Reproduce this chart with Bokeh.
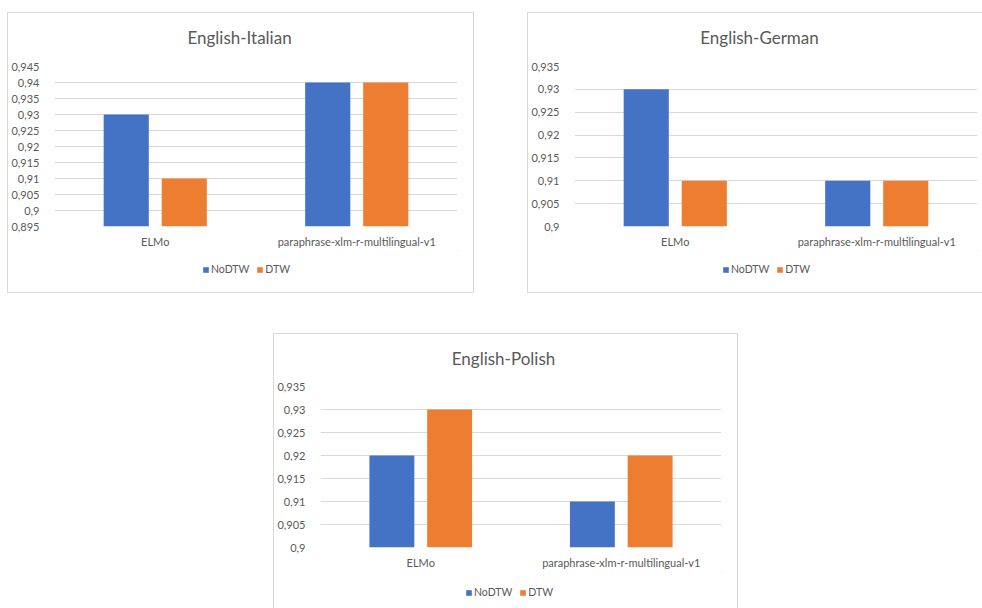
from bokeh.plotting import figure
from bokeh.models import (FactorRange, Range1d, FixedTicker, CustomJSTickFormatter,
                          Legend, LegendItem, ColumnDataSource, Label)
from bokeh.transform import dodge
from bokeh.layouts import column, row
from bokeh.embed import file_html
from bokeh.resources import INLINE

categories = ["ELMo", "paraphrase-xlm-r-multilingual-v1"]
series = ["NoDTW", "DTW"]

it_title = "English-Italian"
it_nodtw = [0.93, 0.94]
it_dtw = [0.91, 0.94]
it_ticks = [0.895, 0.9, 0.905, 0.91, 0.915, 0.92, 0.925, 0.93, 0.935, 0.94, 0.945]

de_title = "English-German"
de_nodtw = [0.93, 0.91]
de_dtw = [0.91, 0.91]
de_ticks = [0.9, 0.905, 0.91, 0.915, 0.92, 0.925, 0.93, 0.935]

pl_title = "English-Polish"
pl_nodtw = [0.92, 0.91]
pl_dtw = [0.93, 0.92]
pl_ticks = [0.9, 0.905, 0.91, 0.915, 0.92, 0.925, 0.93, 0.935]

BLUE = "#4472C4"
ORANGE = "#ED7D31"
TEXT = "#595959"
GRID = "#d9d9d9"
FONT = "Lato"


def strip(width, height):
    s = figure(width=width, height=height, x_range=Range1d(0, 1), y_range=Range1d(0, 1),
               min_border=0, min_border_left=0, min_border_right=0,
               min_border_top=0, min_border_bottom=0,
               x_axis_location=None, y_axis_location=None,
               output_backend="svg", toolbar_location=None)
    s.grid.visible = False
    s.outline_line_color = None
    s.border_fill_color = "white"
    return s


def make_chart(title, nodtw, dtw, ticks, width, h_title, h_main, h_leg, mleft, mright,
               title_pos, legend_loc, margin, styles):
    # title strip
    tp = strip(width, h_title)
    tp.add_layout(Label(x=title_pos[0], y=title_pos[1], x_units="screen", y_units="screen",
                        text=title, text_align="center", text_baseline="middle",
                        text_font=FONT, text_font_size="17px", text_color=TEXT))

    src = ColumnDataSource(dict(cat=categories, NoDTW=nodtw, DTW=dtw))
    p = figure(x_range=FactorRange(*categories, range_padding=0),
               y_range=Range1d(ticks[0], ticks[-1]),
               width=width, height=h_main,
               min_border_left=mleft, min_border_right=mright,
               min_border_top=8, min_border_bottom=24,
               output_backend="svg", toolbar_location=None)
    p.outline_line_color = None
    p.background_fill_color = "white"
    p.border_fill_color = "white"

    p.vbar(x=dodge("cat", -0.144, range=p.x_range), top=series[0], bottom=ticks[0],
           width=0.224, source=src, fill_color=BLUE, line_color=None)
    p.vbar(x=dodge("cat", 0.144, range=p.x_range), top=series[1], bottom=ticks[0],
           width=0.224, source=src, fill_color=ORANGE, line_color=None)

    p.xgrid.visible = False
    p.ygrid.grid_line_color = GRID
    p.ygrid.grid_line_width = 1
    p.ygrid.ticker = FixedTicker(ticks=ticks)

    p.yaxis.ticker = FixedTicker(ticks=ticks)
    p.yaxis.formatter = CustomJSTickFormatter(
        code="let s = tick.toFixed(3).replace(/0+$/, ''); return s.replace('.', ',');")
    for ax in (p.xaxis, p.yaxis):
        ax.axis_line_color = None
        ax.major_tick_line_color = None
        ax.minor_tick_line_color = None
        ax.major_label_text_font = FONT
        ax.major_label_text_font_size = "11px"
        ax.major_label_text_color = TEXT
    p.yaxis.major_label_standoff = 9
    p.xaxis.major_label_standoff = 2

    # legend strip beneath the chart
    lp = strip(width, h_leg)
    l1 = lp.vbar(x=[5], top=[5], bottom=[4], width=0.1, fill_color=BLUE, line_color=None)
    l2 = lp.vbar(x=[5], top=[5], bottom=[4], width=0.1, fill_color=ORANGE, line_color=None)
    legend = Legend(items=[LegendItem(label=series[0], renderers=[l1]),
                           LegendItem(label=series[1], renderers=[l2])],
                    orientation="horizontal", location=legend_loc,
                    glyph_width=7, glyph_height=7, label_height=12,
                    label_text_font=FONT, label_text_font_size="10.5px",
                    label_text_color=TEXT, label_standoff=2, spacing=7,
                    padding=0, margin=0, border_line_color=None,
                    background_fill_alpha=0)
    lp.add_layout(legend)

    box = column(tp, p, lp, spacing=0)
    box.margin = margin
    box.styles = styles
    return box


c1 = make_chart(it_title, it_nodtw, it_dtw, it_ticks, 465, 45, 192, 42, 46, 16,
                (185, 21), (148, 17), (12, 0, 0, 7), {"border": "1px solid #d9d9d9"})
c2 = make_chart(de_title, de_nodtw, de_dtw, de_ticks, 454, 45, 192, 42, 46, 5,
                (185, 21), (148, 17), (12, 0, 0, 53),
                {"border": "1px solid #d9d9d9", "border-right": "none"})
c3 = make_chart(pl_title, pl_nodtw, pl_dtw, pl_ticks, 463, 44, 193, 37, 44, 16,
                (183, 20), (145, 10), (40, 0, 0, 273),
                {"border": "1px solid #d9d9d9", "border-bottom": "none"})

layout = column(row(c1, c2), c3)
open("out.html", "w").write(file_html(layout, INLINE))
